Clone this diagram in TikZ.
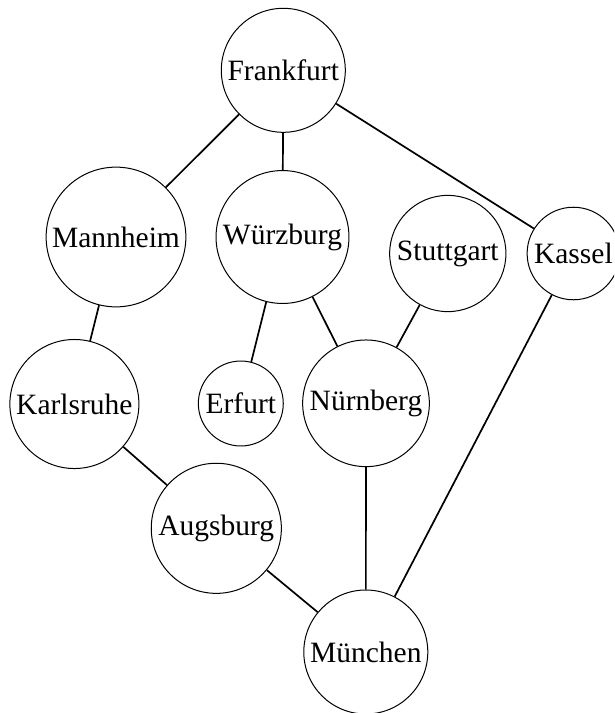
\documentclass[tikz,border=0pt]{standalone}
\usepackage{fontspec}
\setmainfont{Liberation Serif}
\begin{document}
\begin{tikzpicture}[x=1pt,y=-1pt,
  city/.style={circle,draw,line width=1pt,inner sep=4.6pt,font=\fontsize{29.5}{35}\selectfont},
  road/.style={line width=1.7pt}]
\useasboundingbox (0,0) rectangle (614,713);
\clip (0,0) rectangle (614,713);
\node[city] (fra) at (283.3,70.3) {Frankfurt};
\node[city] (man) at (116,237) {Mannheim};
\node[city] (wue) at (282.5,237) {Würzburg};
\node[city] (stu) at (447.8,253.5) {Stuttgart};
\node[city] (kas) at (573.4,253.5) {Kassel};
\node[city] (kar) at (74.4,404) {Karlsruhe};
\node[city] (erf) at (240.8,403.5) {Erfurt};
\node[city] (nue) at (366,403.3) {Nürnberg};
\node[city] (aug) at (216.3,528.3) {Augsburg};
\node[city] (mue) at (365.8,652) {München};
\draw[road] (fra) -- (man);
\draw[road] (fra) -- (wue);
\draw[road] (fra) -- (kas);
\draw[road] (man) -- (kar);
\draw[road] (wue) -- (erf);
\draw[road] (wue) -- (nue);
\draw[road] (stu) -- (nue);
\draw[road] (kas) -- (mue);
\draw[road] (kar) -- (aug);
\draw[road] (aug) -- (mue);
\draw[road] (nue) -- (mue);
\end{tikzpicture}
\end{document}
